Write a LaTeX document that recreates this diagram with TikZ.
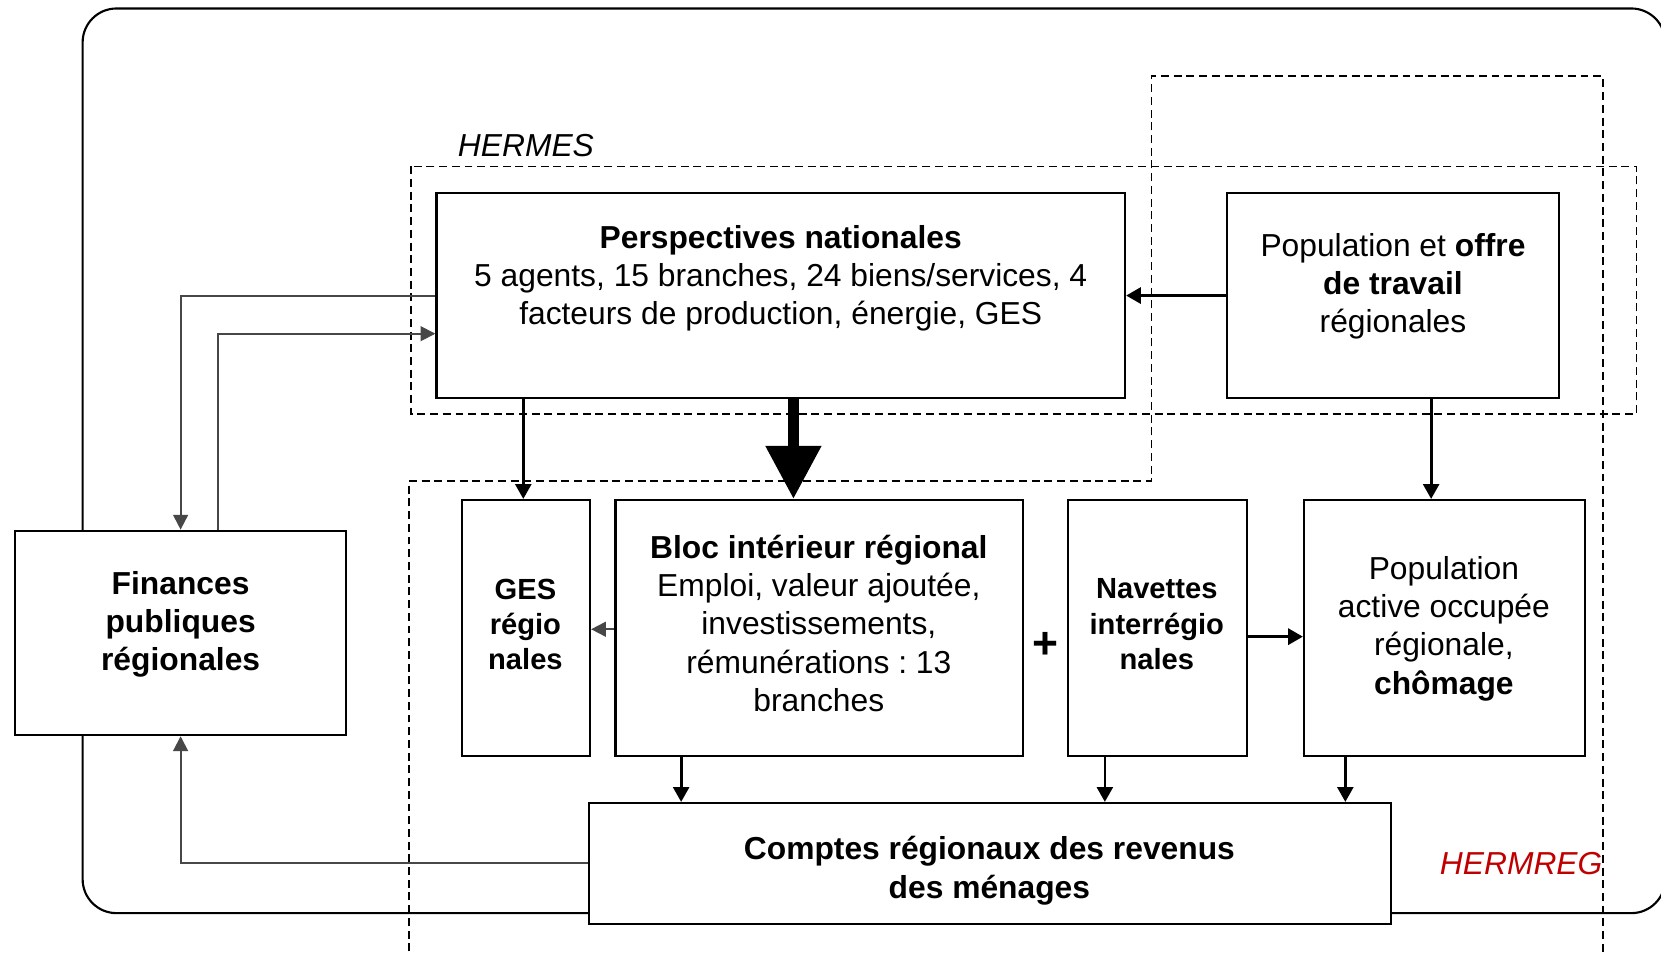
\documentclass[tikz,border=0pt]{standalone}
\usepackage{fontspec}
\setmainfont{Liberation Sans}
\usetikzlibrary{arrows.meta}
\definecolor{gline}{HTML}{474747}
\definecolor{hred}{HTML}{C00000}
\frenchspacing
\begin{document}
\begin{tikzpicture}[x=1pt,y=-1pt,
  box/.style={draw, line width=2pt, fill=white, inner sep=0pt},
  txt/.style={align=center, inner sep=0pt, font=\fontsize{30}{36}\selectfont},
  btxt/.style={align=center, inner sep=0pt, font=\fontsize{30}{36}\selectfont\bfseries},
  nbtxt/.style={align=center, inner sep=0pt, font=\fontsize{27.5}{33.5}\selectfont\bfseries},
  dsh/.style={draw, line width=1.5pt, dash pattern=on 7.5pt off 4.5pt},
  arr/.style={draw, line width=2.6pt, -{Triangle[length=14pt,width=15pt]}},
  harr/.style={draw, line width=3.2pt, -{Triangle[length=14pt,width=15pt]}},
  bigarr/.style={draw, line width=10.4pt, -{Triangle[length=50pt,width=50pt]}},
  garr/.style={draw=gline, line width=1.8pt, -{Triangle[length=14pt,width=14pt]}},
]
\useasboundingbox (0,0) rectangle (1568,900);
\fill[white] (0,0) rectangle (1568,900);
\clip (0,0) rectangle (1568,900);

% outer rounded frame
\draw[line width=2pt, rounded corners=32pt] (78,8) rectangle (1572,862);

% dashed model outlines
\draw[dsh] (388,157) rectangle (1545,391);
\draw[dsh] (386,910) -- (386,454) -- (1087,454) -- (1087,72) -- (1513,72) -- (1513,910);

% labels of the models
\node[txt, font=\fontsize{30}{36}\selectfont\itshape] (hermes) at (496.5,137) {HERMES};
\node[txt, font=\fontsize{30}{36}\selectfont\itshape, text=hred] (hermreg) at (1436,815) {HERMREG};

% boxes
\node[box, minimum width=650pt, minimum height=194pt] (pn) at (737,279) {};
\node[box, minimum width=314pt, minimum height=194pt] (popo) at (1315,279) {};
\node[box, minimum width=313pt, minimum height=193pt] (fin) at (170.5,597.5) {};
\node[box, minimum width=121pt, minimum height=242pt] (ges) at (496.5,593) {};
\node[box, minimum width=385pt, minimum height=242pt] (bloc) at (773.5,593) {};
\node[box, minimum width=169pt, minimum height=242pt] (nav) at (1092.5,593) {};
\node[box, minimum width=265pt, minimum height=242pt] (popa) at (1363.5,593) {};
\node[box, minimum width=757pt, minimum height=114pt] (cr) at (934.5,815) {};

% texts
\node[txt] (pnT) at (737,263) {\textbf{Perspectives nationales}\\5 agents, 15 branches, 24 biens/services, 4\\facteurs de production, énergie, GES};
\node[txt] (popoT) at (1315,270.5) {Population et \textbf{offre}\\\textbf{de travail}\\régionales};
\node[btxt] (finT) at (170.5,589.5) {Finances\\publiques\\régionales};
\node[nbtxt] (gesT) at (496,589.5) {GES\\régio\\nales};
\node[txt] (blocT) at (773,588.5) {\textbf{Bloc intérieur régional}\\Emploi, valeur ajoutée,\\investissements,\\rémunérations : 13\\branches};
\node[nbtxt] (navT) at (1092,589.5) {Navettes\\interrégio\\nales};
\node[txt] (popaT) at (1363,593.5) {Population\\active occupée\\régionale,\\\textbf{chômage}};
\node[btxt] (crT) at (934,822) {Comptes régionaux des revenus\\des ménages};
\node[btxt, font=\fontsize{42}{42}\selectfont\bfseries] (plus) at (987,609) {+};

% helper coordinates
\coordinate (xg) at (494,0);
\coordinate (xb) at (749,0);
\coordinate (xp) at (1351,0);
\coordinate (x1) at (643,0);
\coordinate (x2) at (1043,0);
\coordinate (x3) at (1270,0);
\coordinate (xf) at (206,0);
\coordinate (yf) at (0,315);
\coordinate (yg) at (0,594);
\coordinate (yn) at (0,601);

% black connectors
\draw[harr] (popo.west) -- (pn.east);
\draw[arr] (pn.south -| xg) -- (ges.north -| xg);
\draw[bigarr] (pn.south -| xb) -- (bloc.north -| xb);
\draw[arr] (popo.south -| xp) -- (popa.north -| xp);
\draw[harr] (nav.east |- yn) -- (popa.west |- yn);
\draw[arr] (bloc.south -| x1) -- (cr.north -| x1);
\draw[arr] (nav.south -| x2) -- (cr.north -| x2);
\draw[arr] (popa.south -| x3) -- (cr.north -| x3);

% grey connectors
\draw[garr] (bloc.west |- yg) -- (ges.east |- yg);
\draw[garr] (pn.west) -| (fin.north);
\draw[garr] (fin.north -| xf) |- (pn.west |- yf);
\draw[garr] (cr.west) -| (fin.south);
\end{tikzpicture}
\end{document}
